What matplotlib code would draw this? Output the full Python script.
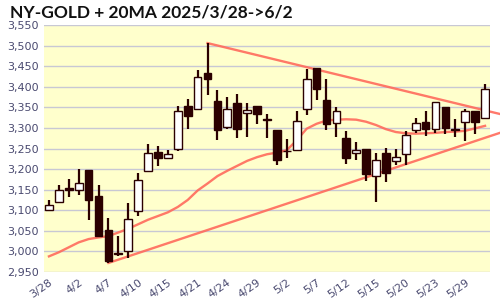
import matplotlib
matplotlib.use("Agg")
import matplotlib.pyplot as plt
from matplotlib.ticker import FuncFormatter

# trading days 2025/3/28 -> 6/2
dates = ["3/28", "3/31", "4/1", "4/2", "4/3", "4/4", "4/7", "4/8", "4/9", "4/10",
         "4/11", "4/14", "4/15", "4/16", "4/17", "4/21", "4/22", "4/23", "4/24", "4/25",
         "4/28", "4/29", "4/30", "5/1", "5/2", "5/5", "5/6", "5/7", "5/8", "5/9",
         "5/12", "5/13", "5/14", "5/15", "5/16", "5/19", "5/20", "5/21", "5/22", "5/23",
         "5/27", "5/28", "5/29", "5/30", "6/2"]

opens = [3101, 3121, 3155, 3150, 3197, 3135, 3053, 2996, 3001, 3098,
         3195, 3242, 3227, 3248, 3354, 3345, 3433, 3365, 3302, 3360,
         3337, 3353, 3321, 3296, 3245, 3247, 3347, 3445, 3369, 3311,
         3276, 3240, 3250, 3182, 3239, 3220, 3236, 3294, 3314, 3297,
         3352, 3298, 3314, 3341, 3325]
highs = [3124, 3161, 3175, 3201, 3197, 3161, 3082, 3037, 3117, 3190,
         3260, 3257, 3247, 3354, 3370, 3441, 3506, 3393, 3374, 3382,
         3360, 3354, 3335, 3296, 3274, 3342, 3442, 3445, 3418, 3350,
         3292, 3267, 3250, 3239, 3251, 3250, 3293, 3323, 3342, 3363,
         3352, 3321, 3347, 3341, 3407]
lows = [3098, 3117, 3132, 3137, 3076, 3035, 2972, 2990, 2985, 3085,
        3193, 3207, 3225, 3245, 3297, 3343, 3381, 3271, 3297, 3276,
        3278, 3309, 3275, 3209, 3228, 3243, 3331, 3369, 3294, 3278,
        3213, 3221, 3172, 3121, 3168, 3210, 3210, 3287, 3280, 3287,
        3285, 3278, 3269, 3285, 3321]
closes = [3113, 3148, 3149, 3166, 3126, 3037, 2977, 2993, 3078, 3173,
          3239, 3227, 3236, 3342, 3330, 3423, 3419, 3296, 3345, 3297,
          3344, 3335, 3319, 3222, 3243, 3318, 3420, 3394, 3309, 3340,
          3227, 3246, 3188, 3223, 3190, 3230, 3282, 3311, 3297, 3363,
          3301, 3296, 3341, 3315, 3394]
ma20 = [2988, 2998, 3010, 3022, 3030, 3034, 3037, 3046, 3055, 3066,
        3077, 3086, 3095, 3108, 3125, 3148, 3165, 3183, 3196, 3208,
        3220, 3229, 3236, 3240, 3246, 3270, 3298, 3310, 3318, 3320,
        3321, 3320, 3315, 3307, 3297, 3290, 3287, 3286, 3287, 3288,
        3290, 3291, 3293, 3299, 3305]

# trend lines: (day index, price) end points
upper_x = [16, 46.5]
upper_y = [3506, 3328]
lower_x = [6, 46.5]
lower_y = [2972, 3296]

dark = "#2b0000"
red = "#ff6a5c"

fig = plt.figure(figsize=(5, 3), dpi=100)
ax = fig.add_axes([0.088, 0.0933, 0.892, 0.8234])
ax.set_facecolor("#ffffcc")

x = list(range(len(dates)))
ax.vlines(x, lows, highs, color=dark, lw=1.6, zorder=3)
for i in x:
    o, c = opens[i], closes[i]
    h = abs(c - o)
    if h < 2:
        h = 2
    face = "white" if c > o else dark
    ax.bar(i, h, bottom=min(o, c), width=0.78, color=face,
           edgecolor=dark, linewidth=1, zorder=4)

ax.plot(x, ma20, color=red, lw=1.7, alpha=0.9, zorder=2)
ax.plot(upper_x, upper_y, color=red, lw=1.7, alpha=0.9, zorder=2, clip_on=False)
ax.plot(lower_x, lower_y, color=red, lw=1.7, alpha=0.9, zorder=2, clip_on=False)

ax.set_xlim(-0.5, 44.5)
ax.set_ylim(2950, 3550)
ax.set_yticks(range(2950, 3551, 50))
ax.yaxis.set_major_formatter(FuncFormatter(lambda v, p: f"{int(v):,}"))
ax.set_xticks(x[::3])
ax.set_xticklabels(dates[::3], rotation=35, ha="right", rotation_mode="anchor")
ax.grid(axis="y", color="#c8c8d4", lw=1)
ax.set_axisbelow(True)
ax.tick_params(length=0, labelsize=8, colors="#4a4a70", pad=4)
for s in ax.spines.values():
    s.set_visible(False)

fig.text(0.02, 0.985, "NY-GOLD + 20MA 2025/3/28->6/2", fontsize=12.5,
         fontweight="bold", family="Lato", va="top", ha="left", color="#111111")

fig.savefig("out.png", dpi=100)
